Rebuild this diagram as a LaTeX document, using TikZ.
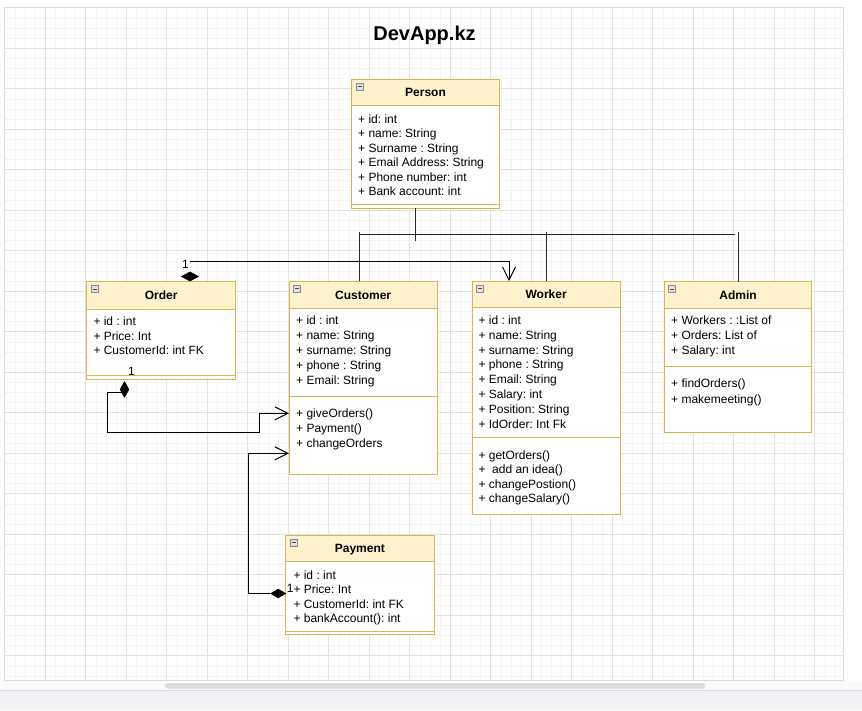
\documentclass[tikz,border=0pt]{standalone}
\usepackage{fontspec}
\setmainfont{Liberation Sans}
\usetikzlibrary{arrows.meta,shapes.geometric,fit}
\frenchspacing
\definecolor{clsborder}{HTML}{D6B656}
\definecolor{clshead}{HTML}{FFF2CC}
\definecolor{gridmaj}{HTML}{E2E2E2}
\definecolor{gridmin}{HTML}{F4F4F4}
\definecolor{treecol}{HTML}{2A2A2A}
\definecolor{barbg}{HTML}{F1F2F4}
\definecolor{barline}{HTML}{D8DBDF}
\definecolor{thumb}{HTML}{DCDCDC}
\tikzset{
  clsline/.style={draw=clsborder, line width=1pt},
  attr/.style={anchor=base west, inner sep=0pt, font=\fontsize{12}{14}\selectfont},
  titletxt/.style={anchor=base, inner sep=0pt, font=\fontsize{12}{14}\selectfont\bfseries},
  lbl/.style={anchor=base west, inner sep=0pt, font=\fontsize{12}{14}\selectfont},
  conn/.style={draw=black, line width=1pt},
  tree/.style={draw=treecol, line width=1pt},
  openarrow/.style={-{Straight Barb[length=13pt,width=13pt]}},
  dmd/.style={diamond, fill=black, draw=black, line width=0.6pt, inner sep=0pt, shape aspect=1}
}
\newcommand\umlclass[8]{%
  \node[fit={(#2,#3) (#4,#5)}, inner sep=0pt, outer sep=0pt, fill=white] (#1) {};
  \fill[clshead] (#2,#3) rectangle (#4,#6);
  \draw[clsline] (#2,#6) -- (#4,#6);
  \draw[clsline] (#2,#7) -- (#4,#7);
  \draw[clsline] (#2,#3) rectangle (#4,#5);
  \node[titletxt] (#1-title) at ({(#2+#4)/2},{(#3+#6)/2+4.4}) {#8};
  \filldraw[fill=black!12, draw=black!45, line width=0.8pt] ({#2+4.5},{#3+4}) rectangle ++(7,7);
  \draw[black!70, line width=1pt] ({#2+6},{#3+7.5}) -- ++(4,0);
}
\newcommand\umllines[5]{%
  \foreach \t [count=\i from 0] in {#5} {\node[attr] (#1\i) at (#2,{#3+\i*#4}) {\t};}
}
\begin{document}
\begin{tikzpicture}[x=1pt,y=-1pt]
\useasboundingbox (0,0) rectangle (862,710);
\fill[white] (0,0) rectangle (862,710);
% canvas and grid
\fill[white] (4.5,7.5) rectangle (843,680);
\foreach \i in {0,...,82} \draw[gridmin, line width=0.8pt] ({4.8+\i*10.125},7.5) -- ({4.8+\i*10.125},680);
\foreach \j in {0,...,66} \draw[gridmin, line width=0.8pt] (4.5,{7.8+\j*10.125}) -- (843,{7.8+\j*10.125});
\foreach \i in {1,...,20} \draw[gridmaj, line width=0.8pt] ({4.8+\i*40.5},7.5) -- ({4.8+\i*40.5},680);
\foreach \j in {1,...,16} \draw[gridmaj, line width=0.8pt] (4.5,{7.8+\j*40.5}) -- (843,{7.8+\j*40.5});
\draw[black!14, line width=0.8pt] (4.5,7.5) rectangle (843,680);
% bottom bar
\fill[black!2] (0,680.5) rectangle (862,690);
\fill[thumb, rounded corners=2.5pt] (165,683) rectangle (705,688.5);
\fill[barbg] (0,690) rectangle (862,710);
\draw[barline, line width=1pt] (0,690) -- (862,690);
% title
\node[anchor=base, inner sep=0pt, font=\fontsize{20}{24}\selectfont\bfseries] (title) at (424.5,40.7) {DevApp.kz};
% classes
\umlclass{person}{351.7}{79.3}{499.3}{208.3}{105}{204.3}{Person}
\umllines{person-a}{358}{123.5}{14.4}{+ id: int, + name: String, + Surname : String, + Email Address: String, + Phone number: int, + Bank account: int}
\umlclass{order}{86.7}{281.7}{235.7}{379.3}{309}{375}{Order}
\umllines{order-a}{93.3}{325.2}{14.8}{+ id : int, + Price: Int, + CustomerId: int FK}
\umlclass{customer}{289}{281}{437.3}{474}{308.3}{396.7}{Customer}
\umllines{customer-a}{296}{324.5}{14.9}{+ id : int, + name: String, + surname: String, + phone : String, + Email: String}
\umllines{customer-m}{296}{417.8}{15}{+ giveOrders(), + Payment(), + changeOrders}
\umlclass{worker}{472.3}{281}{620}{514.3}{307.7}{437.7}{Worker}
\umllines{worker-a}{478.3}{324.5}{14.8}{+ id : int, + name: String, + surname: String, + phone : String, + Email: String, + Salary: int, + Position: String, + IdOrder: Int Fk}
\umllines{worker-m}{478.3}{459.5}{14.3}{+ getOrders(), +~ add an idea(), + changePostion(), + changeSalary()}
\umlclass{admin}{664.3}{281.7}{811.7}{432.7}{308.3}{366}{Admin}
\umllines{admin-a}{671}{324.5}{15.2}{+ Workers : :List of, + Orders: List of, + Salary: int}
\umllines{admin-m}{671}{387.8}{15.5}{+ findOrders(), + makemeeting()}
\umlclass{payment}{285.7}{535}{434}{634}{561.7}{631}{Payment}
\umllines{payment-a}{293.3}{579.5}{14.3}{+ id : int, + Price: Int, + CustomerId: int FK, + bankAccount(): int}
% inheritance tree
\coordinate (tj) at (415,240.7);
\coordinate (tl) at (359.8,234.7);
\coordinate (tr) at (735.3,234.7);
\coordinate (c1) at (359.8,231.7);
\coordinate (w2) at (546.9,231.7);
\coordinate (a1) at (738,231.7);
\draw[tree] (person.south -| tj) -- (tj);
\draw[tree] (tl) -- (tr);
\draw[tree] (c1) -- (customer.north -| c1);
\draw[tree] (w2) -- (worker.north -| w2);
\draw[tree] (a1) -- (admin.north -| a1);
% Order -> Worker
\coordinate (o1) at (190,261.5);
\coordinate (w1) at (509,261.5);
\draw[conn, openarrow] (o1) -- (w1) -- (worker.north -| w1);
\node[dmd, minimum width=17pt, minimum height=9.3pt] (dA) at (190,276.5) {};
\node[lbl] (lA) at (182,268.3) {1};
% Order -> Customer
\coordinate (o2) at (124.5,392.7);
\coordinate (o3) at (107.3,392.7);
\coordinate (o4) at (107.3,432.7);
\coordinate (o5) at (259.3,432.7);
\coordinate (o6) at (259.3,413.3);
\draw[conn, openarrow] (o2) -- (o3) -- (o4) -- (o5) -- (o6) -- (customer.west |- o6);
\node[dmd, minimum width=9pt, minimum height=15.6pt] (dB) at (124.5,389.5) {};
\node[lbl] (lB) at (128,375) {1};
% Payment -> Customer
\node[dmd, minimum width=15pt, minimum height=9pt] (dC) at (278.2,593.5) {};
\coordinate (p1) at (248.8,593.5);
\coordinate (p2) at (248.8,453.3);
\draw[conn, openarrow] (dC.west) -- (p1) -- (p2) -- (customer.west |- p2);
\node[lbl] (lC) at (286.6,592.8) {1};
\end{tikzpicture}
\end{document}
